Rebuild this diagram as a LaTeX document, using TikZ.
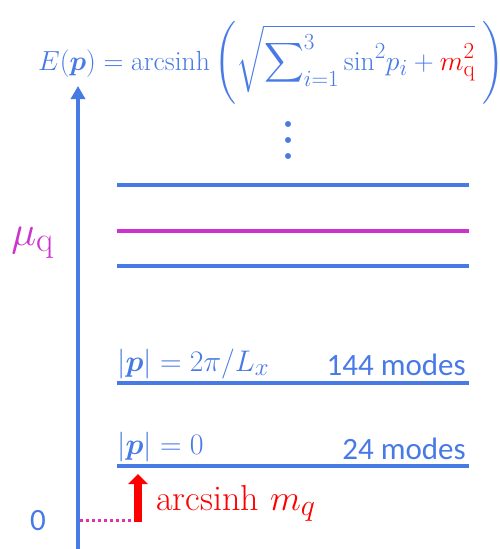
\documentclass[tikz,border=0pt]{standalone}
\usepackage{amsmath}
\usepackage{bm}
\usepackage{fontspec}
\newfontfamily\labelfont{Carlito}
\usepackage{tikz}
\usetikzlibrary{arrows.meta,calc}
\definecolor{LevelBlue}{RGB}{72,122,230}
\definecolor{ChemMagenta}{RGB}{204,51,204}
\definecolor{MassRed}{RGB}{255,0,0}
\definecolor{DotPink}{RGB}{222,50,170}
\tikzset{
  axis/.style={
    draw=LevelBlue,
    line width=4pt,
    -{Triangle[width=14pt,length=13pt]}
  },
  level/.style={
    draw=LevelBlue,
    line width=3.5pt
  },
  mulevel/.style={
    level,
    draw=ChemMagenta
  },
  gaparrow/.style={
    draw=MassRed,
    line width=8pt,
    -{Triangle[width=19pt,length=10pt]}
  },
  zeroline/.style={
    draw=DotPink,
    line width=3pt,
    dash pattern=on 3.3pt off 2.7pt
  },
  mathlabel/.style={
    text=LevelBlue,
    inner sep=0pt,
    font=\fontsize{24.88}{28}\selectfont
  },
  modelabel/.style={
    text=LevelBlue,
    inner sep=0pt,
    font=\labelfont\fontsize{31}{33}\selectfont
  }
}

\begin{document}
\begin{tikzpicture}[x=1pt,y=-1pt]

\useasboundingbox (0,0) rectangle (500,549);

\node[mathlabel,scale=1.11,anchor=base west] (disp) at (38,70)
  {$E(\bm{p})=\operatorname{arcsinh}\left(\sqrt{\displaystyle\sum\nolimits_{i=1}^{3}\sin^2\!p_i+\textcolor{MassRed}{m_{\mathrm{q}}^2}}\;\right)$};

\foreach \yy [count=\k] in {124,140,156}
  \fill[LevelBlue] (288,\yy) circle (3pt);

\coordinate (axbot) at (78,549);
\coordinate (axtop) at (78,86);
\draw[axis] (axbot) -- (axtop);

\coordinate (l4w) at (117,185);
\coordinate (l4e) at (469,185);
\coordinate (muw) at (117,231);
\coordinate (mue) at (469,231);
\coordinate (l3w) at (117,266);
\coordinate (l3e) at (469,266);
\coordinate (l2w) at (117,383);
\coordinate (l2e) at (469,383);
\coordinate (l1w) at (117,466);
\coordinate (l1e) at (469,466);

\draw[level] (l4w) -- (l4e);
\draw[mulevel] (muw) -- (mue);
\draw[level] (l3w) -- (l3e);
\draw[level] (l2w) -- (l2e);
\draw[level] (l1w) -- (l1e);

\node[mathlabel,text=ChemMagenta,scale=1.7,anchor=base west] (mu) at (11,245) {$\mu_{\mathrm{q}}$};

\node[mathlabel,scale=1.2,anchor=base west] (p2lab) at (117,371) {$|\bm{p}|=2\pi/L_x$};
\node[modelabel,anchor=base east] (m2lab) at (466,375) {144 modes};
\node[mathlabel,scale=1.2,anchor=base west] (p1lab) at (117,454) {$|\bm{p}|=0$};
\node[modelabel,anchor=base east] (m1lab) at (466,459) {24 modes};

\node[modelabel,anchor=base] (zero) at (38,530) {0};

\coordinate (zl) at (80,520.5);
\coordinate (zr) at (135,520.5);
\draw[zeroline] (zl) -- (zr);

\coordinate (gapbot) at (138,522);
\coordinate (gaptop) at (138,474);
\draw[gaparrow] (gapbot) -- (gaptop);

\node[mathlabel,text=MassRed,scale=1.45,anchor=base west] (gap) at (156,510) {arcsinh $m_q$};

\end{tikzpicture}
\end{document}
